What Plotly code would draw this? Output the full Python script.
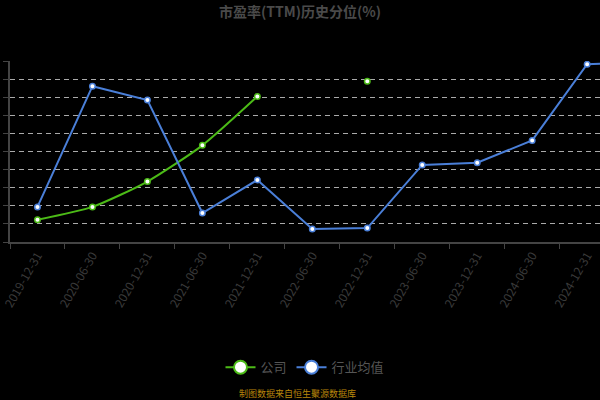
import plotly.graph_objects as go

title = "市盈率(TTM)历史分位(%)"
dates = ["2019-12-31", "2020-06-30", "2020-12-31", "2021-06-30", "2021-12-31",
         "2022-06-30", "2022-12-31", "2023-06-30", "2023-12-31", "2024-06-30",
         "2024-12-31", "2025-06-30"]
company = [12.3, 19.4, 33.4, 53.4, 80.4, None, 88.8, None, None, None, None, None]
industry = [19.4, 86.1, 78.4, 16.0, 34.3, 7.2, 7.7, 42.6, 43.8, 56.1, 98.2, 99.6]
source_text = "制图数据来自恒生聚源数据库"

GREEN = "#4cbb17"
BLUE = "#4a7fd8"
FONT = "Noto Sans CJK SC"

fig = go.Figure()
fig.add_trace(go.Scatter(
    x=dates, y=company, mode="lines+markers", name="公司", showlegend=False,
    line=dict(color=GREEN, width=2, shape="spline", smoothing=0.6),
    marker=dict(symbol="circle", size=5.5, color="white", line=dict(color=GREEN, width=1.5)),
    connectgaps=False,
))
fig.add_trace(go.Scatter(
    x=dates, y=industry, mode="lines+markers", name="行业均值", showlegend=False,
    line=dict(color=BLUE, width=2),
    marker=dict(symbol="circle", size=5.5, color="white", line=dict(color=BLUE, width=1.5)),
))
# legend entries
for nm, col in (("公司", GREEN), ("行业均值", BLUE)):
    fig.add_trace(go.Scatter(
        x=[None], y=[None], mode="lines+markers", name=nm,
        line=dict(color=col, width=2),
        marker=dict(symbol="circle", size=13, color="white", line=dict(color=col, width=2)),
    ))

fig.update_layout(
    width=600, height=400,
    margin=dict(l=9.6, r=0, t=60.7, b=157.7, autoexpand=False),
    paper_bgcolor="black", plot_bgcolor="black",
    font=dict(family=FONT, color="#444444", size=12),
    title=dict(text=title, x=0.5, xanchor="center", y=0.97, yanchor="middle",
               font=dict(family=FONT, size=14, color="#4a4a4a", weight="bold")),
    showlegend=True,
    legend=dict(orientation="h", x=0.5, xanchor="center", y=-0.692, yanchor="middle",
                font=dict(family=FONT, size=13, color="#555555"),
                bgcolor="rgba(0,0,0,0)", itemwidth=30),
    xaxis=dict(type="category", range=[-0.5, 10.234], tickson="boundaries",
               ticks="outside", ticklen=5, tickcolor="#444444", tickangle=-60,
               showline=True, linecolor="#444444", linewidth=1.5,
               showgrid=False, zeroline=False, automargin=False,
               tickfont=dict(family=FONT, size=12, color="#3a3a3a")),
    yaxis=dict(range=[0, 100], dtick=10, ticks="outside", ticklen=5, tickcolor="#444444",
               showticklabels=False, showline=True, linecolor="#444444", linewidth=1.5,
               showgrid=True, gridcolor="#aaaaaa", griddash="5px,4px", gridwidth=1,
               zeroline=False, automargin=False),
    annotations=[dict(text=source_text, xref="paper", yref="paper", x=0.488, y=-0.835,
                      xanchor="center", yanchor="middle", showarrow=False,
                      font=dict(family=FONT, size=9, color="#b8860b"))],
)

fig.write_html("out.html", config={"displayModeBar": False},
               post_script="document.body.style.margin='0';document.body.style.background='black';")
